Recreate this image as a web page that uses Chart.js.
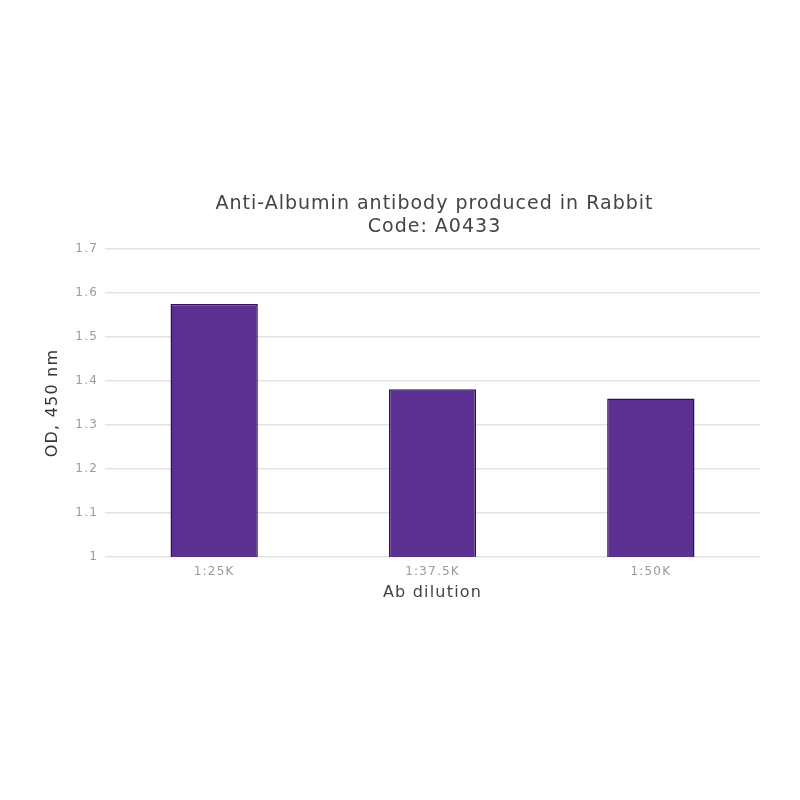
<!DOCTYPE html>
<html>
<head>
<meta charset="utf-8">
<script src="https://cdn.jsdelivr.net/npm/chart.js@4.4.1/dist/chart.umd.min.js"></script>
<style>
  html, body { margin: 0; padding: 0; background: #fff; }
  #wrap { width: 800px; height: 800px; }
</style>
</head>
<body>
<div id="wrap"><canvas id="myChart" width="800" height="800"></canvas></div>
<script>
/* DATOS */
const dilutions = ["1:25K", "1:37.5K", "1:50K"]
const odValues = [1.575, 1.381, 1.360]
const yTicks = [1, 1.1, 1.2, 1.3, 1.4, 1.5, 1.6, 1.7]
const yTickLabels = ["1", "1.1", "1.2", "1.3", "1.4", "1.5", "1.6", "1.7"]
const titleLines = ["Anti-Albumin antibody produced in Rabbit", "Code: A0433"]

const purple = "#5c3092"
const textDark = "#444"
const tickGray = "#9a9a9a"
const gridGray = "#e3e3e3"
const fontFam = "'DejaVu Sans', Verdana, sans-serif"

/* el texto del original es mas ancho: espaciado de letras */
const spacingPlugin = {
    id: "spacing",
    beforeDraw(chart) {
        chart.ctx.letterSpacing = "1.2px"
    }
}

/* titulo centrado sobre el area del grafico */
const titlePlugin = {
    id: "titleLines",
    afterDraw(chart) {
        const ctx = chart.ctx
        const area = chart.chartArea
        const cx = (area.left + area.right) / 2 + 2
        ctx.save()
        ctx.letterSpacing = "1px"
        ctx.fillStyle = textDark
        ctx.font = "19px " + fontFam
        ctx.textAlign = "center"
        ctx.textBaseline = "middle"
        titleLines.forEach((line, i) => {
            ctx.fillText(line, cx, 204 + i * 23)
        })
        ctx.restore()
    }
}

const config = {
    type: "bar",
    data: {
        labels: dilutions,
        datasets: [{
            data: odValues,
            backgroundColor: purple,
            borderColor: "#2e1258",
            borderWidth: 1.5,
            categoryPercentage: 1,
            barPercentage: 0.4
        }]
    },
    options: {
        responsive: false,
        animation: false,
        layout: { padding: { top: 249, left: 0, right: 40, bottom: 183 } },
        plugins: {
            legend: { display: false },
            title: { display: false },
            tooltip: { enabled: false }
        },
        scales: {
            x: {
                grid: { display: false, drawTicks: false },
                border: { display: false },
                ticks: { color: tickGray, padding: 8, font: { size: 12, family: fontFam } },
                title: {
                    display: true, text: "Ab dilution", color: textDark,
                    font: { size: 16, family: fontFam }, padding: { top: 0, bottom: 15 }
                },
                afterFit: (scale) => { scale.height = 60 }
            },
            y: {
                min: 1,
                max: 1.7,
                afterBuildTicks: (scale) => { scale.ticks = yTicks.map(v => ({ value: v })) },
                grid: { color: gridGray, lineWidth: 1.5, drawTicks: false },
                border: { display: false },
                ticks: {
                    color: tickGray, padding: 7, font: { size: 12, family: fontFam },
                    callback: (value, i) => yTickLabels[i]
                },
                title: {
                    display: true, text: "OD, 450 nm", color: "#333",
                    font: { size: 16, family: fontFam }, padding: { top: 43, bottom: 0 }
                },
                afterFit: (scale) => { scale.width = 105 }
            }
        }
    },
    plugins: [spacingPlugin, titlePlugin]
}

new Chart(document.querySelector("#myChart"), config)
</script>
</body>
</html>
